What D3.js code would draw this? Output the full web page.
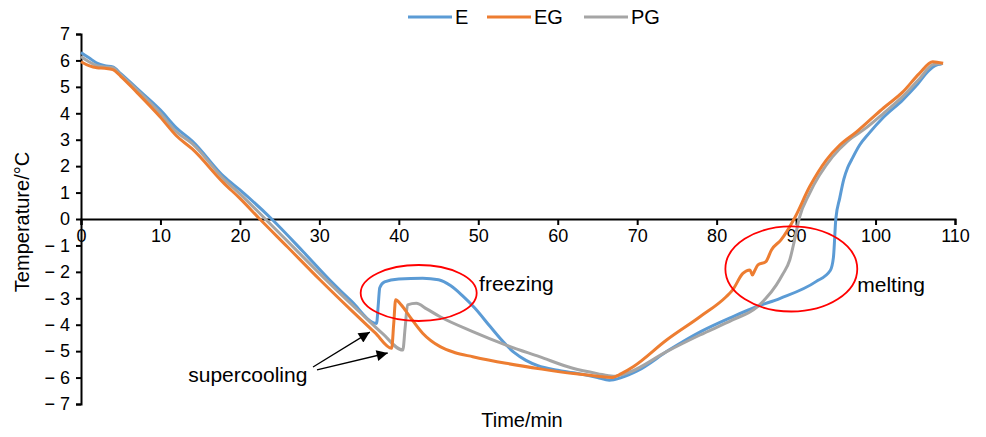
<!DOCTYPE html>
<html>
<head>
<meta charset="utf-8">
<script src="https://cdn.jsdelivr.net/npm/d3@7"></script>
<style>
  body { margin: 0; background: #fff; }
  text { font-family: "Liberation Sans", Arial, Helvetica, sans-serif; fill: #000; }
</style>
</head>
<body>
<div id="chart-area"></div>
<script>
// DATA (time in min, temperature in degC)
var timeE = [0, 1, 2, 3, 4, 5, 7, 10, 12, 14, 18, 20, 24, 28, 31.3, 34, 37.2, 37.4, 37.6, 38.2, 40, 43, 45, 46.5, 48, 49.5, 51.5, 53, 54.5, 56, 57.5, 60, 62, 65, 66.5, 68, 70, 74, 78, 82, 85, 88, 92.5, 94.3, 94.7, 95, 95.5, 96, 96.5, 97, 98, 99.2, 101, 103.4, 105, 106.8, 107.5, 108.3];
var tempE = [6.3, 6.1, 5.9, 5.8, 5.75, 5.5, 4.95, 4.12, 3.45, 2.95, 1.6, 1.1, 0.0, -1.25, -2.31, -3.1, -3.95, -3.3, -2.6, -2.38, -2.27, -2.24, -2.3, -2.52, -2.9, -3.35, -4.07, -4.6, -5.05, -5.35, -5.55, -5.72, -5.82, -6.0, -6.1, -6.0, -5.75, -4.96, -4.26, -3.7, -3.32, -3.0, -2.37, -1.95, -1.45, 0.0, 0.8, 1.5, 1.95, 2.25, 2.8, 3.25, 3.85, 4.5, 5.0, 5.64, 5.8, 5.86];

var timeEG = [0, 1, 2, 3, 4, 5, 7, 10, 12, 14, 18, 20, 22.5, 26, 30.1, 34, 37, 39.1, 39.35, 39.6, 40.3, 41.4, 43, 45.2, 47, 49.3, 53.5, 58, 62, 65, 66.8, 68, 69.5, 73.7, 77.9, 81.2, 82, 83.3, 84.2, 84.5, 84.8, 85.2, 86.2, 86.9, 88.1, 89.8, 91.7, 93.8, 95.5, 97.6, 99.2, 101, 103.4, 105.5, 107.2, 108.5];
var tempEG = [5.95, 5.8, 5.72, 5.7, 5.65, 5.4, 4.8, 3.85, 3.15, 2.65, 1.35, 0.78, 0.0, -1.06, -2.31, -3.45, -4.3, -4.89, -4.0, -3.06, -3.25, -3.7, -4.32, -4.83, -5.05, -5.21, -5.46, -5.68, -5.85, -5.95, -6.0, -5.85, -5.59, -4.58, -3.7, -2.94, -2.69, -2.06, -1.93, -2.12, -1.95, -1.74, -1.61, -1.17, -0.79, 0.03, 1.22, 2.23, 2.8, 3.3, 3.72, 4.2, 4.8, 5.5, 5.95, 5.89];

var timePG = [0, 1, 2, 3, 4, 5, 7, 10, 12, 14, 18, 20, 23.2, 27, 31, 35, 38, 40.5, 40.8, 41.1, 42.2, 43.5, 45.2, 49.3, 53.5, 57.7, 61.9, 65, 67, 69, 73.7, 77.9, 82, 85, 86.2, 87.5, 88.3, 89.2, 89.8, 90.4, 91.7, 94.6, 96.5, 98.6, 101, 103.4, 105.5, 107.3, 108.5];
var tempPG = [6.15, 5.95, 5.8, 5.75, 5.72, 5.45, 4.9, 4.0, 3.3, 2.85, 1.5, 0.95, 0.0, -1.15, -2.35, -3.5, -4.35, -4.96, -4.1, -3.25, -3.19, -3.4, -3.7, -4.26, -4.77, -5.21, -5.65, -5.85, -5.95, -5.8, -5.02, -4.39, -3.82, -3.35, -3.0, -2.5, -2.1, -1.55, -0.8, 0.03, 0.97, 2.36, 2.95, 3.4, 4.0, 4.63, 5.3, 5.85, 5.88];

var seriesNames = ["E", "EG", "PG"];
var seriesColors = ["#5b9bd5", "#ed7d31", "#a5a5a5"];
var xTicks = [0, 10, 20, 30, 40, 50, 60, 70, 80, 90, 100, 110];
var yTicks = [7, 6, 5, 4, 3, 2, 1, 0, -1, -2, -3, -4, -5, -6, -7];

//Margin
var margin = { top: 34, right: 31, bottom: 33, left: 81 };
var width = 986 - margin.left - margin.right;
var height = 437 - margin.top - margin.bottom;

var svg = d3.select("#chart-area")
    .append("svg")
    .attr("width", 986)
    .attr("height", 437);

var g = svg.append("g")
    .attr("transform", "translate(" + margin.left + ", " + margin.top + ")");

// arrow head
svg.append("defs").append("marker")
    .attr("id", "arrow")
    .attr("viewBox", "0 0 10 10")
    .attr("refX", 10)
    .attr("refY", 5)
    .attr("markerUnits", "userSpaceOnUse")
    .attr("markerWidth", 14)
    .attr("markerHeight", 11)
    .attr("orient", "auto")
    .append("path")
    .attr("d", "M0,0 L10,5 L0,10 Z")
    .attr("fill", "#000");

// SCALES
var x = d3.scaleLinear().domain([0, 110]).range([0, width]);
var y = d3.scaleLinear().domain([-7, 7]).range([height, 0]);

//AXIS
var yAxis = d3.axisLeft(y)
    .tickValues(yTicks)
    .tickSize(5)
    .tickFormat((d) => d < 0 ? "\u2212 " + Math.abs(d) : d);
var xAxis = d3.axisBottom(x)
    .tickValues(xTicks)
    .tickSize(6)
    .tickFormat((d) => d);

var yAxisGroup = g.append("g").call(yAxis);
var xAxisGroup = g.append("g")
    .attr("transform", "translate(0, " + y(0) + ")")
    .call(xAxis);

[xAxisGroup, yAxisGroup].forEach((ax) => {
    ax.select(".domain").attr("stroke", "#000").attr("stroke-width", 2);
    ax.selectAll(".tick line").attr("stroke", "#000").attr("stroke-width", 2);
    ax.selectAll(".tick text")
        .attr("font-size", "18px")
        .attr("font-family", "Liberation Sans, Arial, sans-serif")
        .style("fill", "#000");
});
yAxisGroup.selectAll(".tick text").attr("x", -11);
xAxisGroup.selectAll(".tick text").attr("y", 10);

//---TITLE LABELS
g.append("text")
    .attr("x", width / 2 + 4)
    .attr("y", height + 23)
    .attr("font-size", "20px")
    .attr("text-anchor", "middle")
    .text("Time/min");

g.append("text")
    .attr("x", -(y(0) + 3))
    .attr("y", -52)
    .attr("font-size", "20px")
    .attr("text-anchor", "middle")
    .attr("transform", "rotate(-90)")
    .text("Temperature/\u00b0C");

// LINES
var line = d3.line()
    .curve(d3.curveMonotoneX)
    .x((d) => x(d[0]))
    .y((d) => y(d[1]));

var series = [
    d3.zip(timeE, tempE),
    d3.zip(timeEG, tempEG),
    d3.zip(timePG, tempPG)
];

// draw order: E, PG, EG
[0, 2, 1].forEach((i) => {
    g.append("path")
        .datum(series[i])
        .attr("d", line)
        .attr("fill", "none")
        .attr("stroke", seriesColors[i])
        .attr("stroke-width", 3)
        .attr("stroke-linejoin", "round");
});

// ANNOTATIONS
g.append("ellipse")
    .attr("cx", x(42.5)).attr("cy", y(-2.8))
    .attr("rx", x(7.3) - x(0)).attr("ry", y(0) - y(1.06))
    .attr("fill", "none").attr("stroke", "#ff0000").attr("stroke-width", 1.8);

g.append("ellipse")
    .attr("cx", x(89.4)).attr("cy", y(-1.89))
    .attr("rx", x(8.3) - x(0)).attr("ry", y(0) - y(1.61))
    .attr("fill", "none").attr("stroke", "#ff0000").attr("stroke-width", 1.8);

g.append("text")
    .attr("x", x(50.1)).attr("y", y(-2.72))
    .attr("font-size", "21px")
    .text("freezing");

g.append("text")
    .attr("x", x(97.7)).attr("y", y(-2.76))
    .attr("font-size", "21px")
    .text("melting");

g.append("text")
    .attr("x", x(13.5)).attr("y", y(-6.17))
    .attr("font-size", "21px")
    .text("supercooling");

var arrows = [[29.2, -5.6, 36.35, -4.28], [29.7, -5.71, 38.6, -5.07]];
arrows.forEach((a) => {
    g.append("line")
        .attr("x1", x(a[0])).attr("y1", y(a[1]))
        .attr("x2", x(a[2])).attr("y2", y(a[3]))
        .attr("stroke", "#000")
        .attr("stroke-width", 1.3)
        .attr("marker-end", "url(#arrow)");
});

// LEGEND
var legendX = [408, 487, 584];
var legend = svg.append("g");
seriesNames.forEach((name, i) => {
    legend.append("line")
        .attr("x1", legendX[i]).attr("x2", legendX[i] + 44)
        .attr("y1", 17).attr("y2", 17)
        .attr("stroke", seriesColors[i])
        .attr("stroke-width", 3);
    legend.append("text")
        .attr("x", legendX[i] + 47)
        .attr("y", 24)
        .attr("font-size", "20px")
        .text(name);
});
</script>
</body>
</html>
